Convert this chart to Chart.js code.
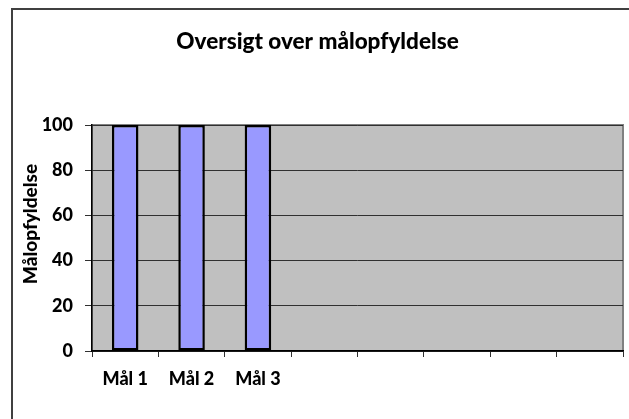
<!DOCTYPE html>
<html>
<head>
<meta charset="utf-8">
<script src="https://cdn.jsdelivr.net/npm/chart.js@4"></script>
<style>
  html, body { margin: 0; padding: 0; background: #fff; }
  #wrap { width: 629px; height: 419px; }
</style>
</head>
<body>
<div id="wrap"><canvas id="goalChart" width="629" height="419"></canvas></div>
<script>
// Data
const goalLabels = ['Mål 1', 'Mål 2', 'Mål 3', '', '', '', '', ''];
const fulfilment = [100, 100, 100, null, null, null, null, null];
const yTicks = { min: 0, max: 100, step: 20 };
const yTitle = 'Målopfyldelse';

const FONT = 'Lato, "Liberation Sans", sans-serif';

// frame around the whole chart + grey plot area + y title (sits a bit above centre in the original)
const framePlugin = {
  id: 'frame',
  beforeDraw(chart) {
    const ctx = chart.ctx;
    const a = chart.chartArea;
    ctx.save();
    ctx.fillStyle = '#fff';
    ctx.fillRect(0, 0, chart.width, chart.height);
    ctx.strokeStyle = '#404040';
    ctx.lineWidth = 2;
    ctx.strokeRect(12, 9, 700, 500);
    ctx.fillStyle = '#c0c0c0';
    ctx.fillRect(a.left, a.top, a.right - a.left, a.bottom - a.top);
    ctx.strokeStyle = '#808080';
    ctx.lineWidth = 2;
    ctx.strokeRect(a.left, a.top, a.right - a.left, a.bottom - a.top);
    ctx.restore();
  },
  afterDraw(chart) {
    const ctx = chart.ctx;
    const a = chart.chartArea;
    ctx.save();
    ctx.translate(31, (a.top + a.bottom) / 2 - 14);
    ctx.rotate(-Math.PI / 2);
    ctx.fillStyle = '#000';
    ctx.font = '900 19px ' + FONT;
    ctx.textAlign = 'center';
    ctx.textBaseline = 'middle';
    ctx.fillText(yTitle, 0, 0);
    ctx.restore();
  }
};

new Chart(document.getElementById('goalChart'), {
  type: 'bar',
  data: {
    labels: goalLabels,
    datasets: [{
      label: yTitle,
      data: fulfilment,
      backgroundColor: '#9999ff',
      borderColor: '#000',
      borderWidth: 2.5,
      borderSkipped: false,
      categoryPercentage: 1,
      barPercentage: 0.4
    }]
  },
  options: {
    responsive: false,
    animation: false,
    layout: { padding: { left: 12, right: 6, top: 0, bottom: 0 } },
    plugins: {
      legend: { display: false },
      tooltip: { enabled: false },
      title: {
        display: true,
        text: 'Oversigt over målopfyldelse',
        color: '#000',
        font: { family: FONT, size: 22.5, weight: 900 },
        padding: { top: 28, bottom: 70 }
      }
    },
    scales: {
      x: {
        grid: { drawOnChartArea: false, drawTicks: true, tickLength: 6, color: '#303030' },
        border: { display: true, color: '#000', width: 1.5 },
        ticks: {
          color: '#000',
          font: { family: FONT, size: 18, weight: 900 },
          padding: 11,
          maxRotation: 0,
          autoSkip: false
        },
        afterFit(scale) { scale.height = 68; }
      },
      y: {
        min: yTicks.min,
        max: yTicks.max,
        grid: { color: '#303030', tickLength: 7 },
        border: { display: true, color: '#000', width: 1.5 },
        ticks: {
          stepSize: yTicks.step,
          color: '#000',
          font: { family: FONT, size: 18, weight: 900 },
          padding: 12
        },
        afterFit(scale) { scale.width = 80; }
      }
    }
  },
  plugins: [framePlugin]
});
</script>
</body>
</html>
